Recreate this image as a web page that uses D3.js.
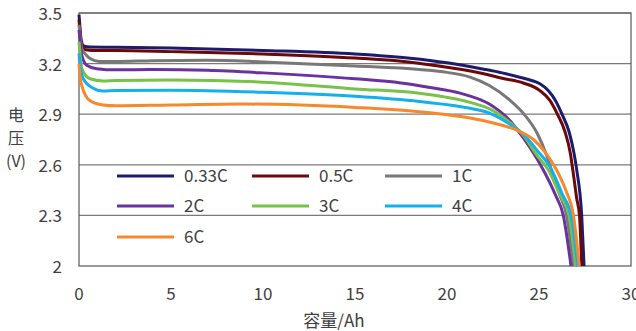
<!DOCTYPE html>
<html>
<head>
<meta charset="utf-8">
<script src="https://cdn.jsdelivr.net/npm/d3@7"></script>
<style>
  body { margin: 0; background: #fff; }
  svg { display: block; font-family: "Noto Sans CJK SC", "Noto Sans", sans-serif; }
</style>
</head>
<body>
<svg id="chart" width="636" height="331"></svg>
<script>
// Discharge curves, [capacity Ah, voltage V]
const c033 = [[0,3.49],[0.05,3.42],[0.12,3.34],[0.25,3.305],[0.6,3.298],[2,3.297],[5,3.292],[10,3.278],[15,3.257],[18,3.232],[20,3.205],[22,3.167],[23,3.145],[24,3.118],[24.6,3.1],[25.05,3.08],[25.5,3.04],[25.9,2.98],[26.25,2.9],[26.65,2.79],[26.9,2.67],[27.05,2.57],[27.32,2.3],[27.45,2.0]];
const c05 = [[0,3.46],[0.05,3.39],[0.15,3.31],[0.35,3.282],[1,3.277],[2,3.277],[5,3.271],[10,3.257],[15,3.233],[18,3.208],[20,3.178],[22,3.14],[23,3.113],[24.15,3.085],[25.05,3.04],[25.6,2.98],[26.0,2.9],[26.4,2.8],[26.7,2.67],[26.85,2.56],[27.05,2.4],[27.2,2.3],[27.32,2.0]];
const c1 = [[0,3.43],[0.08,3.35],[0.15,3.29],[0.4,3.25],[0.6,3.23],[1.1,3.213],[2,3.212],[4,3.217],[7,3.22],[10,3.21],[15,3.186],[18.5,3.165],[20,3.148],[21.25,3.12],[22.3,3.07],[23.4,2.985],[24.15,2.905],[24.9,2.787],[25.4,2.66],[25.7,2.56],[26.1,2.43],[26.5,2.3],[26.87,2.0]];
const c2 = [[0,3.4],[0.06,3.33],[0.15,3.25],[0.42,3.19],[0.96,3.17],[2,3.163],[4,3.165],[7,3.16],[10,3.145],[15,3.11],[17.5,3.085],[19,3.06],[20.7,3.025],[22.3,2.96],[23.3,2.875],[24.15,2.76],[24.9,2.635],[25.33,2.55],[25.9,2.42],[26.32,2.3],[26.74,2.0]];
const c3 = [[0,3.33],[0.05,3.27],[0.15,3.17],[0.6,3.11],[1.3,3.097],[2,3.1],[5,3.103],[10,3.09],[15,3.05],[18.5,3.024],[21.25,2.97],[22.34,2.93],[23.42,2.85],[24.15,2.775],[24.9,2.655],[25.5,2.57],[26.1,2.43],[26.63,2.3],[26.99,2.0]];
const c4 = [[0,3.26],[0.05,3.21],[0.23,3.11],[0.78,3.053],[1.3,3.037],[2,3.04],[5,3.042],[10,3.03],[15,3.006],[18.5,2.975],[21.25,2.935],[22.34,2.905],[23.42,2.84],[24.15,2.78],[24.9,2.685],[25.69,2.57],[26.25,2.43],[26.74,2.3],[27.1,2.0]];
const c6 = [[0,3.2],[0.05,3.13],[0.15,3.07],[0.6,2.98],[1.3,2.955],[2,2.95],[5,2.955],[9,2.96],[15,2.94],[18.5,2.915],[20,2.897],[21.25,2.877],[22.34,2.852],[23.8,2.805],[24.7,2.75],[25.4,2.665],[26,2.56],[26.45,2.45],[26.87,2.3],[27.19,2.0]];

const seriesNames = ["0.33C", "0.5C", "1C", "2C", "3C", "4C", "6C"];
const seriesData = [c033, c05, c1, c2, c3, c4, c6];
const seriesColors = ["#1c1c6e", "#6b0808", "#787878", "#6a32a0", "#78c24a", "#14b0ee", "#f7882e"];

const xTicks = [0, 5, 10, 15, 20, 25, 30];
const yTicks = [2, 2.3, 2.6, 2.9, 3.2, 3.5];

const svg = d3.select("#chart");
const plotLeft = 79, plotRight = 631, plotTop = 13, plotBottom = 266;

const x = d3.scaleLinear().domain([0, 30]).range([plotLeft, plotRight]);
const y = d3.scaleLinear().domain([2, 3.5]).range([plotBottom, plotTop]);

// gridlines
svg.append("g")
  .selectAll("line")
  .data(yTicks.slice(1))
  .join("line")
  .attr("x1", plotLeft).attr("x2", plotRight)
  .attr("y1", d => y(d)).attr("y2", d => y(d))
  .attr("stroke", "#7a7a7a")
  .attr("stroke-width", 1.2);

// frame
svg.append("rect")
  .attr("x", plotLeft).attr("y", plotTop)
  .attr("width", plotRight - plotLeft).attr("height", plotBottom - plotTop)
  .attr("fill", "none")
  .attr("stroke", "#595959")
  .attr("stroke-width", 1.2);

// y labels
svg.append("g")
  .selectAll("text")
  .data(yTicks)
  .join("text")
  .attr("x", 62)
  .attr("y", d => y(d) + 1)
  .attr("dy", "0.35em")
  .attr("text-anchor", "end")
  .attr("font-size", 17)
  .attr("fill", "#404040")
  .text(d => d3.format("")(d));

// x labels
svg.append("g")
  .selectAll("text")
  .data(xTicks)
  .join("text")
  .attr("x", d => x(d))
  .attr("y", 300)
  .attr("text-anchor", "middle")
  .attr("font-size", 17)
  .attr("fill", "#404040")
  .text(d => d);

// axis titles
svg.append("text")
  .attr("x", 334).attr("y", 327)
  .attr("text-anchor", "middle")
  .attr("font-size", 17)
  .attr("fill", "#404040")
  .text("容量/Ah");

svg.append("g")
  .selectAll("text")
  .data(["电", "压", "(V)"])
  .join("text")
  .attr("x", 16)
  .attr("y", (d, i) => 121 + i * 23)
  .attr("text-anchor", "middle")
  .attr("font-size", 16)
  .attr("fill", "#404040")
  .text(d => d);

// curves
const line = d3.line()
  .x(d => x(d[0]))
  .y(d => y(d[1]))
  .curve(d3.curveMonotoneX);

svg.append("g")
  .selectAll("path")
  .data(seriesData)
  .join("path")
  .attr("d", line)
  .attr("fill", "none")
  .attr("stroke", (d, i) => seriesColors[i])
  .attr("stroke-width", 3)
  .attr("stroke-linejoin", "round");

// legend
const legendCols = [117, 252, 385];
const legendRows = [176, 206, 237];
const legend = svg.append("g")
  .selectAll("g")
  .data(seriesNames)
  .join("g")
  .attr("transform", (d, i) => "translate(" + legendCols[i % 3] + "," + legendRows[Math.floor(i / 3)] + ")");

legend.append("line")
  .attr("x1", 0).attr("x2", 57)
  .attr("stroke", (d, i) => seriesColors[i])
  .attr("stroke-width", 3);

legend.append("text")
  .attr("x", 67)
  .attr("dy", "0.35em")
  .attr("font-size", 17)
  .attr("fill", "#404040")
  .text(d => d);
</script>
</body>
</html>
